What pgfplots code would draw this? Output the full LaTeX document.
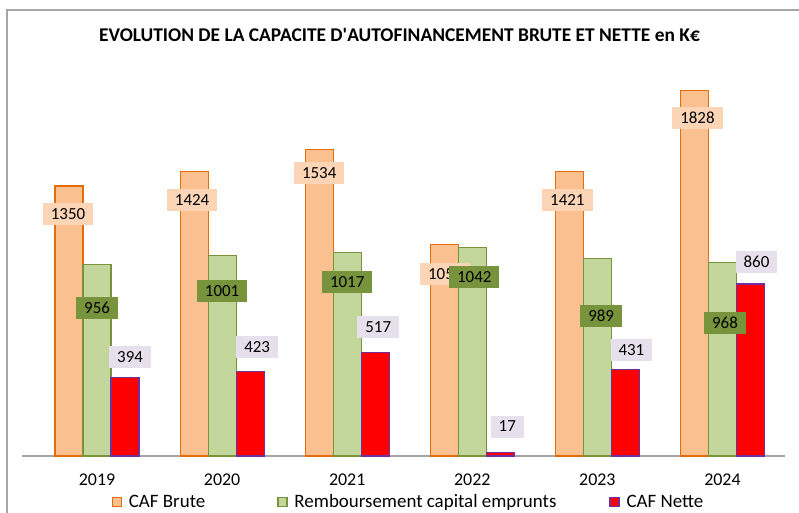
\documentclass[border=0pt]{standalone}
\usepackage{pgfplots}
\pgfplotsset{compat=1.18}
\usepackage{fontspec}
\setmainfont{Carlito}
\definecolor{obfill}{HTML}{FAC090}
\definecolor{obedge}{HTML}{E46C0A}
\definecolor{olab}{HTML}{FBD5B5}
\definecolor{gbfill}{HTML}{C3D69B}
\definecolor{gbedge}{HTML}{77933C}
\definecolor{glab}{HTML}{77933C}
\definecolor{rbfill}{HTML}{FF0000}
\definecolor{rbedge}{HTML}{7030A0}
\definecolor{rlab}{HTML}{E6E0EC}
\definecolor{frame}{HTML}{A6A6A6}
\begin{document}
\begin{tikzpicture}[x=1bp,y=1bp]
\useasboundingbox (0,0) rectangle (799,513);
\draw[frame, line width=1.2bp] (7,-20) -- (7,503) -- (830,503);
\node[font=\bfseries\fontsize{19.5}{22}\selectfont] at (399.5,478) {EVOLUTION DE LA CAPACITE D\textquotesingle AUTOFINANCEMENT BRUTE ET NETTE en K€};
\begin{axis}[
  at={(22bp,57bp)}, anchor=south west,
  scale only axis, width=763bp, height=400bp,
  xmin=-0.6, xmax=5.5, ymin=0, ymax=2000,
  axis y line=none,
  axis x line*=bottom,
  axis line style={frame, line width=1.5bp},
  major tick length=0pt,
  xtick={0,1,2,3,4,5},
  xticklabels={2019,2020,2021,2022,2023,2024},
  xticklabel style={anchor=center, yshift=-24bp, font=\fontsize{18}{21}\selectfont},
  ybar=0pt, bar width=0.224,
  clip=false,
  legend columns=3,
  legend style={at={(0.5066,-0.115)}, anchor=center, draw=none, fill=none,
    font=\fontsize{19}{22}\selectfont,
    /tikz/column 1/.style={column sep=5bp},
    /tikz/column 3/.style={column sep=5bp},
    /tikz/column 5/.style={column sep=5bp},
    /tikz/column 2/.style={column sep=70bp},
    /tikz/column 4/.style={column sep=51bp}},
  legend image code/.code={\draw[#1] (0bp,-4.5bp) rectangle (9bp,4.5bp);},
]
\addplot[fill=obfill, draw=obedge, line width=1.2bp] coordinates {(0,1350) (1,1424) (2,1534) (3,1059) (4,1421) (5,1828)};
\addplot[fill=gbfill, draw=gbedge, line width=1.2bp] coordinates {(0,956) (1,1001) (2,1017) (3,1042) (4,989) (5,968)};
\addplot[fill=rbfill, draw=rbedge, line width=1.2bp] coordinates {(0,394) (1,423) (2,517) (3,17) (4,431) (5,860)};
\legend{CAF Brute, Remboursement capital emprunts, CAF Nette}
\tikzset{lbl/.style={inner xsep=8bp, inner ysep=4bp, text height=12bp, text depth=2bp, font=\fontsize{17}{20}\selectfont}}
\node[lbl, fill=olab] at (axis cs:-0.232,1209) {1350};
\node[lbl, fill=olab] at (axis cs:0.76,1279) {1424};
\node[lbl, fill=olab] at (axis cs:1.776,1414) {1534};
\node[lbl, fill=olab] at (axis cs:2.784,909) {1059};
\node[lbl, fill=olab] at (axis cs:3.76,1279) {1421};
\node[lbl, fill=olab] at (axis cs:4.8,1688) {1828};
\node[lbl, fill=glab] at (axis cs:0,739) {956};
\node[lbl, fill=glab] at (axis cs:1,824) {1001};
\node[lbl, fill=glab] at (axis cs:2,869) {1017};
\node[lbl, fill=glab] at (axis cs:3.016,894) {1042};
\node[lbl, fill=glab] at (axis cs:4.03,699) {989};
\node[lbl, fill=glab] at (axis cs:5.02,664) {968};
\node[lbl, fill=rlab] at (axis cs:0.264,494) {394};
\node[lbl, fill=rlab] at (axis cs:1.28,544) {423};
\node[lbl, fill=rlab] at (axis cs:2.248,644) {517};
\node[lbl, fill=rlab] at (axis cs:3.28,145) {17};
\node[lbl, fill=rlab] at (axis cs:4.272,529) {431};
\node[lbl, fill=rlab] at (axis cs:5.272,969) {860};
\end{axis}
\end{tikzpicture}
\end{document}
